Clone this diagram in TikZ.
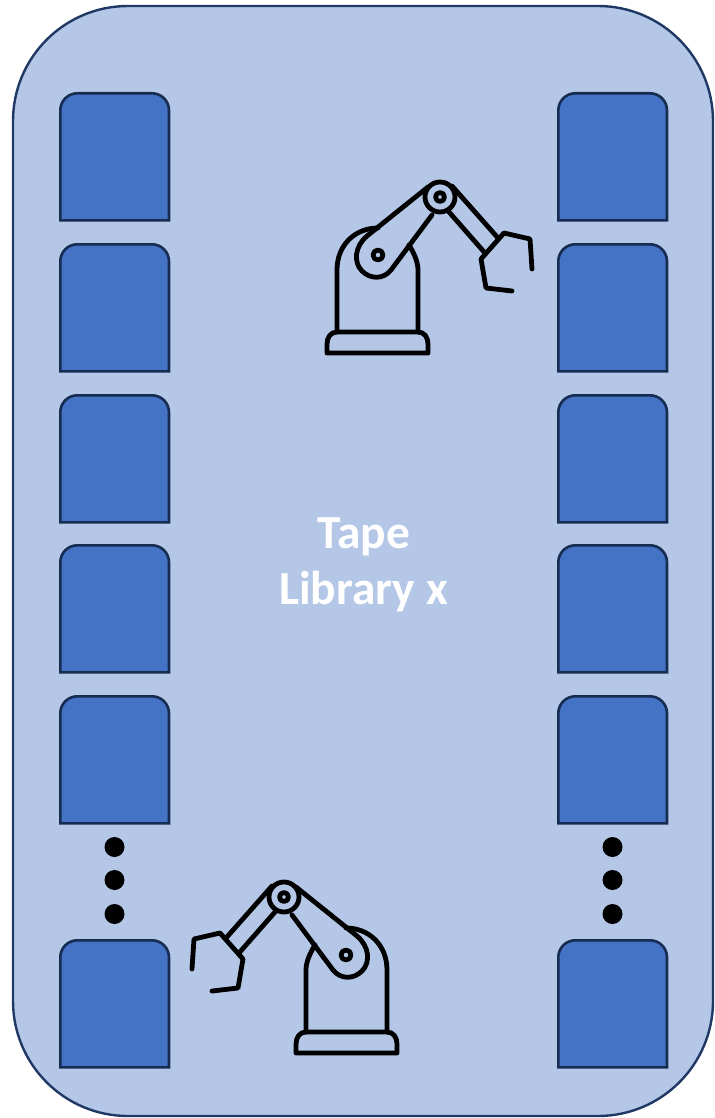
\documentclass[tikz,border=0pt]{standalone}
\usepackage{fontspec}
\setmainfont{Carlito}
\usepackage{xcolor}
\usetikzlibrary{positioning}
\definecolor{libfill}{HTML}{B4C7E7}
\definecolor{libedge}{HTML}{203864}
\definecolor{slotfill}{HTML}{4472C4}
\definecolor{slotedge}{HTML}{172C51}

\begin{document}
\begin{tikzpicture}[x=1pt,y=-1pt,
                    libbox/.style={draw=libedge,fill=libfill,line width=2.4pt},
                    slotbox/.style={draw=slotedge,fill=slotfill,line width=2.6pt},
                    armline/.style={draw=black,line width=4.8pt,line join=round,line cap=round},
                    dotmark/.style={circle,fill=black,inner sep=0pt,minimum size=20pt},
                    libtext/.style={align=center,text=white,font=\fontsize{47.5}{56}\selectfont\bfseries},
                    slot/.pic={
                      \path[slotbox] (0.3,127.3) -- (0.3,17.3) arc[start angle=180,end angle=90,radius=17pt]
                        -- (92,0.3) arc[start angle=90,end angle=0,radius=17pt] -- (109,127.3) -- cycle;
                    },
                    robot/.pic={
                      % base and body
                      \path[armline] (327,353) -- (327,344) .. controls (327,337) and (331,332) .. (337,332)
                        -- (418,332) .. controls (424,332) and (428,337) .. (428,344) -- (428,353) -- cycle;
                      \path[armline] (337,332) -- (337,270) .. controls (337,245) and (355,228) .. (378,228);
                      \path[armline] (418,332) -- (418,270) .. controls (418,262) and (414,253) .. (409,245);
                      % lower arm
                      \path[armline] (428,187) -- (367,236) .. controls (355,246) and (353,262) .. (362,271)
                        .. controls (371,280) and (384,279) .. (391,270) -- (432,215);
                      \path[armline] (378,255) circle[radius=5pt];
                      % joint
                      \path[armline] (440,197) circle[radius=15pt];
                      \path[armline] (440,197) circle[radius=4.5pt];
                      % upper arm
                      \path[armline] (452,186) -- (498,238);
                      \path[armline] (449,212) -- (485,253);
                      % gripper
                      \path[armline] (512,291) -- (486,288) -- (481,259) -- (504,233) -- (530,239) -- (532,269);
                    }]

  \path[libbox] (13,121) arc[start angle=180,end angle=90,radius=115pt] -- (598,6)
    arc[start angle=90,end angle=0,radius=115pt] -- (713,1001)
    arc[start angle=0,end angle=-90,radius=115pt] -- (128,1116)
    arc[start angle=-90,end angle=-180,radius=115pt] -- cycle;

  \foreach \y in {93,244,395,545,696,940}{
    \pic at (60,\y) {slot};
    \pic at (558,\y) {slot};
  }

  \foreach \y [count=\i] in {847,880,914}{
    \node[dotmark] (dotL\i) at (114.5,\y) {};
    \node[dotmark] (dotR\i) at (612.5,\y) {};
  }

  \pic at (0,0) {robot};
  \pic[xscale=-1] at (724,700) {robot};

  \node[libtext] (library) at (363.5,565) {Tape\\Library x};

  \useasboundingbox (0,0) rectangle (713,1118);
\end{tikzpicture}
\end{document}
